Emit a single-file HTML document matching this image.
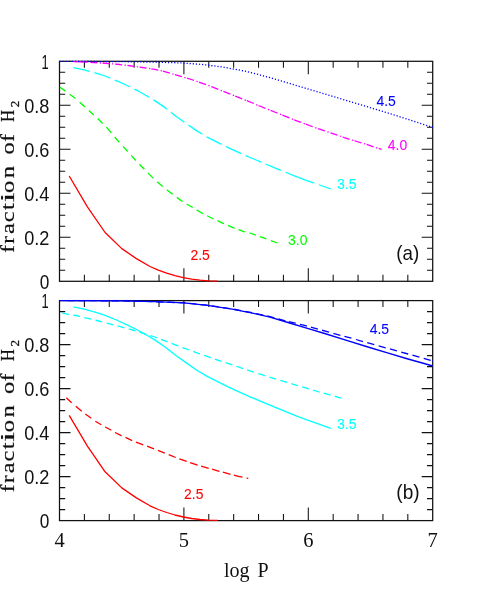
<!DOCTYPE html>
<html><head><meta charset="utf-8"><title>fraction of H2 vs log P</title>
<style>
html,body{margin:0;padding:0;background:#fff;}
body{width:480px;height:599px;overflow:hidden;font-family:"Liberation Sans",sans-serif;}
svg{display:block;}
.sans{font-family:"Liberation Sans",sans-serif;}
.serif{font-family:"Liberation Serif",serif;}
</style></head><body>
<svg width="480" height="599" viewBox="0 0 480 599">
<rect x="0" y="0" width="480" height="599" fill="#ffffff"/>
<g id="panel-a">
<path d="M84.38,61.30v6.50M84.38,281.30v-6.50M109.26,61.30v6.50M109.26,281.30v-6.50M134.14,61.30v6.50M134.14,281.30v-6.50M159.02,61.30v6.50M159.02,281.30v-6.50M183.90,61.30v13.00M183.90,281.30v-13.00M208.78,61.30v6.50M208.78,281.30v-6.50M233.66,61.30v6.50M233.66,281.30v-6.50M258.54,61.30v6.50M258.54,281.30v-6.50M283.42,61.30v6.50M283.42,281.30v-6.50M308.30,61.30v13.00M308.30,281.30v-13.00M333.18,61.30v6.50M333.18,281.30v-6.50M358.06,61.30v6.50M358.06,281.30v-6.50M382.94,61.30v6.50M382.94,281.30v-6.50M407.82,61.30v6.50M407.82,281.30v-6.50M59.50,72.30h5.70M432.70,72.30h-5.70M59.50,83.30h5.70M432.70,83.30h-5.70M59.50,94.30h5.70M432.70,94.30h-5.70M59.50,105.30h11.00M432.70,105.30h-11.00M59.50,116.30h5.70M432.70,116.30h-5.70M59.50,127.30h5.70M432.70,127.30h-5.70M59.50,138.30h5.70M432.70,138.30h-5.70M59.50,149.30h11.00M432.70,149.30h-11.00M59.50,160.30h5.70M432.70,160.30h-5.70M59.50,171.30h5.70M432.70,171.30h-5.70M59.50,182.30h5.70M432.70,182.30h-5.70M59.50,193.30h11.00M432.70,193.30h-11.00M59.50,204.30h5.70M432.70,204.30h-5.70M59.50,215.30h5.70M432.70,215.30h-5.70M59.50,226.30h5.70M432.70,226.30h-5.70M59.50,237.30h11.00M432.70,237.30h-11.00M59.50,248.30h5.70M432.70,248.30h-5.70M59.50,259.30h5.70M432.70,259.30h-5.70M59.50,270.30h5.70M432.70,270.30h-5.70" stroke="#111111" stroke-width="1.05" fill="none"/>
<rect x="59.50" y="61.30" width="373.20" height="220.00" fill="none" stroke="#111111" stroke-width="1.25"/>
<polyline points="69.20,176.00 87.40,206.80 105.10,232.50 121.80,248.60 136.40,258.60 150.00,266.50 158.30,270.20 166.70,273.20 175.00,275.70 183.30,277.70 191.70,279.20 200.00,280.20 208.30,280.90 217.50,281.10" fill="none" stroke="#ff0000" stroke-width="1.3" stroke-linejoin="round" stroke-linecap="butt"/>
<path d="M60.00,87.20 L65.40,91.10 L65.50,91.17 M69.70,94.25 L75.50,98.51 M79.70,102.23 L85.00,107.03 M88.80,110.44 L93.80,114.91 M97.70,118.50 L102.70,123.50 M106.30,127.10 L107.20,128.00 L111.30,132.93 M114.70,137.01 L117.60,140.50 L119.30,142.36 M123.00,146.41 L127.70,151.56 M131.20,155.43 L135.80,160.51 M139.30,164.30 L144.30,169.30 M148.00,173.00 L148.90,173.90 L153.10,178.10 L153.30,178.28 M157.20,181.75 L160.40,184.60 L162.70,186.44 M166.80,189.72 L170.90,193.00 L172.70,194.33 M176.80,197.37 L181.30,200.70 L182.70,201.54 M186.70,203.94 L191.80,207.00 L192.70,207.54 M196.70,209.92 L202.20,213.20 L203.00,213.61 M207.20,215.75 L212.60,218.50 L213.70,219.00 M217.40,220.69 L223.10,223.30 L224.00,223.69 M228.00,225.42 L233.50,227.80 L234.70,228.24 M238.50,229.63 L243.90,231.60 L245.00,231.85 M249.60,232.91 L250.00,233.00 L255.80,235.15 M260.00,236.70 L266.30,238.97 M270.80,240.59 L277.50,243.00" fill="none" stroke="#00ff00" stroke-width="1.3" stroke-linejoin="round"/>
<polyline points="73.40,67.60 84.20,69.90 96.80,73.40 105.10,76.00 117.60,81.20 128.10,86.00 138.50,91.20 146.90,96.00 154.80,100.60 165.40,107.90 175.90,116.20 186.30,123.60 196.80,130.90 207.20,137.10 217.60,142.30 228.10,147.60 238.50,152.40 248.90,157.00 255.00,159.50 275.90,168.40 296.80,176.80 298.50,177.43" fill="none" stroke="#00ffff" stroke-width="1.3" stroke-linejoin="round" stroke-linecap="butt" stroke-dasharray="16.8 4.85"/>
<polyline points="298.50,177.43 306.20,180.30 331.00,189.00" fill="none" stroke="#00ffff" stroke-width="1.3" stroke-linejoin="round" stroke-linecap="butt" stroke-dasharray="16.8 4.85"/>
<path d="M73.40,61.71 L85.00,62.00 L87.60,62.16 M90.30,62.33 L97.30,62.77 M99.70,62.92 L101.00,63.00 M102.50,63.09 L105.00,63.25 L109.50,63.61 M111.90,63.80 L113.20,63.91 M115.10,64.06 L117.50,64.25 L122.10,64.80 M124.50,65.09 L125.80,65.25 M127.40,65.44 L130.00,65.75 L134.40,66.37 M136.80,66.70 L138.10,66.88 M139.60,67.09 L142.50,67.50 L146.60,68.09 M149.00,68.44 L150.30,68.62 M151.30,68.77 L155.00,69.30 L158.30,70.05 M160.70,70.60 L162.00,70.90 M162.90,71.16 L169.90,73.16 M172.30,73.87 L173.60,74.25 M174.90,74.64 L180.80,76.40 L181.90,76.73 M184.30,77.44 L185.60,77.82 M187.00,78.24 L191.25,79.50 L194.00,80.45 M196.40,81.27 L197.70,81.72 M199.00,82.17 L201.70,83.10 L206.00,84.63 M208.40,85.48 L209.70,85.95 M211.30,86.52 L212.10,86.80 L218.30,89.30 M220.70,90.27 L222.00,90.80 M223.40,91.36 L230.40,94.19 M232.80,95.16 L232.90,95.20 L234.10,95.67 M235.20,96.11 L242.20,98.87 M244.60,99.82 L245.90,100.34 M246.80,100.71 L253.75,103.50 L253.80,103.52 M256.20,104.55 L257.50,105.10 M258.50,105.53 L259.60,106.00 L265.50,108.37 M267.90,109.33 L269.20,109.85 M270.60,110.41 L275.80,112.50 L277.60,113.21 M280.00,114.17 L281.30,114.68 M282.40,115.12 L289.40,117.90 M291.80,118.85 L293.10,119.37 M294.20,119.81 L296.70,120.80 L301.20,122.47 M303.60,123.35 L304.90,123.84 M305.80,124.17 L312.80,126.76 M315.20,127.65 L316.50,128.13 M318.00,128.67 L325.00,130.99 M327.40,131.78 L328.70,132.22 M330.50,132.81 L337.50,135.13 M339.90,136.00 L341.20,136.48 M342.60,137.00 L345.00,137.90 L349.60,139.29 M352.00,140.02 L353.30,140.41 M354.40,140.75 L361.40,142.87 M363.80,143.59 L365.10,143.99 M366.60,144.46 L373.60,146.78 M376.00,147.58 L377.30,148.01 M378.75,148.49 L381.50,149.40" fill="none" stroke="#ff00ff" stroke-width="1.3" stroke-linejoin="round"/>
<polyline points="59.50,61.40 120.00,61.60 160.00,62.30 180.80,62.90 201.70,64.40 222.50,67.00 243.30,70.80 255.00,73.60 275.80,79.30 296.70,85.60 317.50,91.80 338.30,98.00 345.00,100.10 365.80,106.30 386.70,112.60 407.50,119.20 428.30,126.00 433.00,127.40" fill="none" stroke="#0000ff" stroke-width="1.3" stroke-linejoin="round" stroke-linecap="butt" stroke-dasharray="1.2 1.9"/>
</g>
<g id="panel-b">
<path d="M84.38,300.60v6.50M84.38,520.60v-6.50M109.26,300.60v6.50M109.26,520.60v-6.50M134.14,300.60v6.50M134.14,520.60v-6.50M159.02,300.60v6.50M159.02,520.60v-6.50M183.90,300.60v13.00M183.90,520.60v-13.00M208.78,300.60v6.50M208.78,520.60v-6.50M233.66,300.60v6.50M233.66,520.60v-6.50M258.54,300.60v6.50M258.54,520.60v-6.50M283.42,300.60v6.50M283.42,520.60v-6.50M308.30,300.60v13.00M308.30,520.60v-13.00M333.18,300.60v6.50M333.18,520.60v-6.50M358.06,300.60v6.50M358.06,520.60v-6.50M382.94,300.60v6.50M382.94,520.60v-6.50M407.82,300.60v6.50M407.82,520.60v-6.50M59.50,311.60h5.70M432.70,311.60h-5.70M59.50,322.60h5.70M432.70,322.60h-5.70M59.50,333.60h5.70M432.70,333.60h-5.70M59.50,344.60h11.00M432.70,344.60h-11.00M59.50,355.60h5.70M432.70,355.60h-5.70M59.50,366.60h5.70M432.70,366.60h-5.70M59.50,377.60h5.70M432.70,377.60h-5.70M59.50,388.60h11.00M432.70,388.60h-11.00M59.50,399.60h5.70M432.70,399.60h-5.70M59.50,410.60h5.70M432.70,410.60h-5.70M59.50,421.60h5.70M432.70,421.60h-5.70M59.50,432.60h11.00M432.70,432.60h-11.00M59.50,443.60h5.70M432.70,443.60h-5.70M59.50,454.60h5.70M432.70,454.60h-5.70M59.50,465.60h5.70M432.70,465.60h-5.70M59.50,476.60h11.00M432.70,476.60h-11.00M59.50,487.60h5.70M432.70,487.60h-5.70M59.50,498.60h5.70M432.70,498.60h-5.70M59.50,509.60h5.70M432.70,509.60h-5.70" stroke="#111111" stroke-width="1.05" fill="none"/>
<rect x="59.50" y="300.60" width="373.20" height="220.00" fill="none" stroke="#111111" stroke-width="1.25"/>
<polyline points="69.20,415.30 87.40,446.10 105.10,471.80 121.80,487.90 136.40,497.90 150.00,505.80 158.30,509.50 166.70,512.50 175.00,515.00 183.30,517.00 191.70,518.50 200.00,519.50 208.30,520.20 217.50,520.40" fill="none" stroke="#ff0000" stroke-width="1.3" stroke-linejoin="round" stroke-linecap="butt"/>
<path d="M66.30,397.80 L71.70,402.80 M75.80,406.20 L81.70,411.20 M85.30,414.00 L91.30,418.30 M95.30,421.20 L101.30,424.80 M105.10,426.89 L105.30,427.00 L111.30,430.30 M115.00,432.50 L121.30,435.70 L121.60,435.82 M125.50,437.39 L131.70,440.30 L132.20,440.51 M136.00,442.07 L143.30,444.81 M147.10,446.23 L148.90,446.90 L154.00,448.83 M157.90,450.32 L164.80,453.11 M168.70,454.69 L175.70,457.52 M179.30,458.79 L186.70,461.37 M190.10,462.56 L196.80,464.90 L197.70,465.16 M201.10,466.12 L208.70,468.28 M212.10,469.24 L217.60,470.80 L219.50,471.31 M222.90,472.22 L230.50,474.26 M233.90,475.17 L238.50,476.40 L242.50,477.22 M246.60,478.05 L248.30,478.40" fill="none" stroke="#ff0000" stroke-width="1.3" stroke-linejoin="round"/>
<polyline points="73.40,306.90 84.20,309.20 96.80,312.70 105.10,315.30 117.60,320.50 128.10,325.30 138.50,330.50 146.90,335.30 154.80,339.90 165.40,347.20 175.90,355.50 186.30,362.90 196.80,370.20 207.20,376.40 217.60,381.60 228.10,386.90 238.50,391.70 248.90,396.30 255.00,398.80 275.90,407.70 296.80,416.10 306.20,419.60 331.00,428.30" fill="none" stroke="#00ffff" stroke-width="1.3" stroke-linejoin="round" stroke-linecap="butt"/>
<path d="M62.30,313.20 L68.90,314.32 M73.30,315.06 L75.90,315.50 L80.00,316.48 M84.30,317.51 L91.00,319.11 M95.50,320.19 L96.80,320.50 L102.20,321.90 M106.70,323.07 L113.40,324.81 M117.70,325.93 L124.40,327.77 M128.80,328.99 L134.30,330.50 L135.50,330.88 M139.50,332.15 L146.20,334.27 M150.30,335.57 L154.80,337.00 L157.00,337.84 M160.90,339.34 L167.60,341.91 M171.60,343.45 L175.90,345.10 L178.30,345.98 M182.50,347.53 L189.20,350.00 M193.20,351.47 L196.80,352.80 L199.90,353.89 M204.10,355.36 L210.80,357.71 M214.80,359.12 L217.60,360.10 L221.50,361.39 M225.60,362.74 L232.30,364.95 M236.30,366.27 L238.50,367.00 L243.00,368.53 M247.10,369.92 L253.80,372.19 M258.30,373.63 L265.00,375.71 M269.40,377.08 L275.90,379.10 L276.10,379.16 M280.30,380.43 L287.00,382.45 M291.20,383.71 L296.80,385.40 L297.90,385.72 M302.20,386.98 L308.90,388.95 M313.00,390.15 L317.60,391.50 L319.70,392.08 M323.80,393.22 L330.50,395.08 M334.70,396.25 L338.50,397.30 L341.00,398.10" fill="none" stroke="#00ffff" stroke-width="1.3" stroke-linejoin="round"/>
<polyline points="59.50,300.60 120.00,300.80 155.00,301.70 184.20,302.90 207.20,305.40 232.20,309.20 254.80,313.60 270.00,317.10 288.75,322.75 307.50,328.40 326.25,334.00 345.00,339.80 368.75,347.25 387.50,352.90 406.25,358.50 425.00,363.75 432.70,366.00" fill="none" stroke="#0000ff" stroke-width="1.35" stroke-linejoin="round" stroke-linecap="butt"/>
<path d="M67.50,300.63 L74.50,300.65 M78.60,300.66 L85.60,300.69 M89.70,300.70 L96.70,300.72 M100.80,300.74 L107.80,300.76 M111.90,300.77 L118.90,300.80 M123.00,300.88 L130.00,301.06 M134.10,301.16 L141.10,301.34 M145.20,301.45 L152.20,301.63 M156.30,301.75 L163.30,302.04 M167.40,302.21 L174.40,302.50 M178.50,302.67 L184.20,302.90 L185.50,303.03 M189.60,303.44 L196.60,304.14 M200.70,304.55 L207.20,305.20 L207.70,305.27 M211.80,305.88 L218.80,306.92 M222.90,307.52 L229.90,308.56 M234.00,309.24 L241.00,310.57 M245.10,311.35 L252.10,312.69 M256.20,313.51 L263.20,315.08 M267.30,316.00 L270.00,316.60 L274.30,317.83 M278.40,319.00 L285.40,320.76 M288.75,321.60 L295.30,323.10 L295.75,323.21 M300.00,324.26 L306.60,325.90 L307.00,326.01 M310.90,327.13 L317.80,329.10 L317.90,329.13 M322.10,330.25 L329.00,332.10 L329.10,332.13 M333.40,333.35 L340.30,335.30 L340.40,335.33 M344.40,336.35 L351.40,338.15 M356.00,339.50 L363.00,341.57 M367.25,342.70 L374.25,344.56 M378.70,345.83 L385.60,347.80 L385.70,347.83 M389.90,348.98 L396.90,350.90 M401.20,352.09 L408.10,354.00 L408.20,354.03 M412.40,355.22 L419.40,357.20 M423.70,358.43 L430.60,360.40 L430.70,360.43 M432.00,360.80 L432.70,361.00" fill="none" stroke="#0000ff" stroke-width="1.3" stroke-linejoin="round"/>
</g>
<g id="labels" style="opacity:0.999">
<text x="41.60" y="68.50" class="sans" font-size="19.5" fill="#111111" text-anchor="start" textLength="7.2" lengthAdjust="spacingAndGlyphs">1</text>
<text x="24.20" y="112.50" class="sans" font-size="19.5" fill="#111111" text-anchor="start" textLength="25.2" lengthAdjust="spacingAndGlyphs">0.8</text>
<text x="24.20" y="156.50" class="sans" font-size="19.5" fill="#111111" text-anchor="start" textLength="25.2" lengthAdjust="spacingAndGlyphs">0.6</text>
<text x="24.20" y="200.50" class="sans" font-size="19.5" fill="#111111" text-anchor="start" textLength="25.2" lengthAdjust="spacingAndGlyphs">0.4</text>
<text x="24.20" y="244.50" class="sans" font-size="19.5" fill="#111111" text-anchor="start" textLength="25.2" lengthAdjust="spacingAndGlyphs">0.2</text>
<text x="39.80" y="288.50" class="sans" font-size="19.5" fill="#111111" text-anchor="start" textLength="9.6" lengthAdjust="spacingAndGlyphs">0</text>
<text x="41.60" y="307.80" class="sans" font-size="19.5" fill="#111111" text-anchor="start" textLength="7.2" lengthAdjust="spacingAndGlyphs">1</text>
<text x="24.20" y="351.80" class="sans" font-size="19.5" fill="#111111" text-anchor="start" textLength="25.2" lengthAdjust="spacingAndGlyphs">0.8</text>
<text x="24.20" y="395.80" class="sans" font-size="19.5" fill="#111111" text-anchor="start" textLength="25.2" lengthAdjust="spacingAndGlyphs">0.6</text>
<text x="24.20" y="439.80" class="sans" font-size="19.5" fill="#111111" text-anchor="start" textLength="25.2" lengthAdjust="spacingAndGlyphs">0.4</text>
<text x="24.20" y="483.80" class="sans" font-size="19.5" fill="#111111" text-anchor="start" textLength="25.2" lengthAdjust="spacingAndGlyphs">0.2</text>
<text x="39.80" y="527.80" class="sans" font-size="19.5" fill="#111111" text-anchor="start" textLength="9.6" lengthAdjust="spacingAndGlyphs">0</text>
<text x="59.50" y="546.80" class="serif" font-size="20.5" fill="#111111" text-anchor="middle">4</text>
<text x="183.90" y="546.80" class="serif" font-size="20.5" fill="#111111" text-anchor="middle">5</text>
<text x="308.30" y="546.80" class="serif" font-size="20.5" fill="#111111" text-anchor="middle">6</text>
<text x="432.70" y="546.80" class="serif" font-size="20.5" fill="#111111" text-anchor="middle">7</text>
<text x="224.00" y="577.30" class="serif" font-size="20.5" fill="#111111" text-anchor="start" textLength="44.7" lengthAdjust="spacingAndGlyphs" word-spacing="3">log P</text>
<text x="376.40" y="105.80" class="sans" font-size="14.7" fill="#0000ff" text-anchor="start" textLength="19.4" lengthAdjust="spacingAndGlyphs" stroke-width="0.08" stroke="#0000ff">4.5</text>
<text x="387.80" y="150.30" class="sans" font-size="14.7" fill="#ff00ff" text-anchor="start" textLength="19.4" lengthAdjust="spacingAndGlyphs" stroke-width="0.08" stroke="#ff00ff">4.0</text>
<text x="337.00" y="189.30" class="sans" font-size="14.7" fill="#00ffff" text-anchor="start" textLength="19.4" lengthAdjust="spacingAndGlyphs" stroke-width="0.08" stroke="#00ffff">3.5</text>
<text x="288.00" y="245.00" class="sans" font-size="14.7" fill="#00ff00" text-anchor="start" textLength="19.4" lengthAdjust="spacingAndGlyphs" stroke-width="0.08" stroke="#00ff00">3.0</text>
<text x="190.40" y="259.90" class="sans" font-size="14.7" fill="#ff0000" text-anchor="start" textLength="19.4" lengthAdjust="spacingAndGlyphs" stroke-width="0.08" stroke="#ff0000">2.5</text>
<text x="369.70" y="334.00" class="sans" font-size="14.7" fill="#0000ff" text-anchor="start" textLength="19.4" lengthAdjust="spacingAndGlyphs" stroke-width="0.08" stroke="#0000ff">4.5</text>
<text x="337.00" y="429.20" class="sans" font-size="14.7" fill="#00ffff" text-anchor="start" textLength="19.4" lengthAdjust="spacingAndGlyphs" stroke-width="0.08" stroke="#00ffff">3.5</text>
<text x="184.00" y="499.00" class="sans" font-size="14.7" fill="#ff0000" text-anchor="start" textLength="19.4" lengthAdjust="spacingAndGlyphs" stroke-width="0.08" stroke="#ff0000">2.5</text>
<text x="396.30" y="260.20" class="sans" font-size="20.8" fill="#111111" text-anchor="start" textLength="23" lengthAdjust="spacingAndGlyphs">(a)</text>
<text x="396.30" y="498.80" class="sans" font-size="20.8" fill="#111111" text-anchor="start" textLength="23.3" lengthAdjust="spacingAndGlyphs">(b)</text>
<g class="serif" fill="#111111" stroke="#111111" stroke-width="0.2" text-anchor="middle">
<text transform="translate(14.1,249.00) rotate(-90) scale(1.25,1)" font-size="18.4">f</text>
<text transform="translate(14.1,239.80) rotate(-90) scale(1.25,1)" font-size="18.4">r</text>
<text transform="translate(14.1,228.60) rotate(-90) scale(1.33,1)" font-size="18.4">a</text>
<text transform="translate(14.1,216.80) rotate(-90) scale(1.33,1)" font-size="18.4">c</text>
<text transform="translate(14.1,206.50) rotate(-90) scale(1.33,1)" font-size="18.4">t</text>
<text transform="translate(14.1,197.50) rotate(-90) scale(1.9,1)" font-size="18.4">i</text>
<text transform="translate(14.1,186.90) rotate(-90) scale(1.33,1)" font-size="18.4">o</text>
<text transform="translate(14.1,172.10) rotate(-90) scale(1.33,1)" font-size="18.4">n</text>
<text transform="translate(14.1,148.50) rotate(-90) scale(1.33,1)" font-size="18.4">o</text>
<text transform="translate(14.1,138.00) rotate(-90) scale(1.25,1)" font-size="18.4">f</text>
<text transform="translate(14.1,115.90) rotate(-90) scale(0.92,1)" font-size="18.2">H</text>
<text transform="translate(19.3,103.90) rotate(-90) scale(1.05,1)" font-size="12.4" stroke-width="0.3">2</text>
</g>
<g class="serif" fill="#111111" stroke="#111111" stroke-width="0.2" text-anchor="middle">
<text transform="translate(14.1,488.30) rotate(-90) scale(1.25,1)" font-size="18.4">f</text>
<text transform="translate(14.1,479.10) rotate(-90) scale(1.25,1)" font-size="18.4">r</text>
<text transform="translate(14.1,467.90) rotate(-90) scale(1.33,1)" font-size="18.4">a</text>
<text transform="translate(14.1,456.10) rotate(-90) scale(1.33,1)" font-size="18.4">c</text>
<text transform="translate(14.1,445.80) rotate(-90) scale(1.33,1)" font-size="18.4">t</text>
<text transform="translate(14.1,436.80) rotate(-90) scale(1.9,1)" font-size="18.4">i</text>
<text transform="translate(14.1,426.20) rotate(-90) scale(1.33,1)" font-size="18.4">o</text>
<text transform="translate(14.1,411.40) rotate(-90) scale(1.33,1)" font-size="18.4">n</text>
<text transform="translate(14.1,387.80) rotate(-90) scale(1.33,1)" font-size="18.4">o</text>
<text transform="translate(14.1,377.30) rotate(-90) scale(1.25,1)" font-size="18.4">f</text>
<text transform="translate(14.1,355.20) rotate(-90) scale(0.92,1)" font-size="18.2">H</text>
<text transform="translate(19.3,343.20) rotate(-90) scale(1.05,1)" font-size="12.4" stroke-width="0.3">2</text>
</g>
</g>
</svg>
</body></html>
